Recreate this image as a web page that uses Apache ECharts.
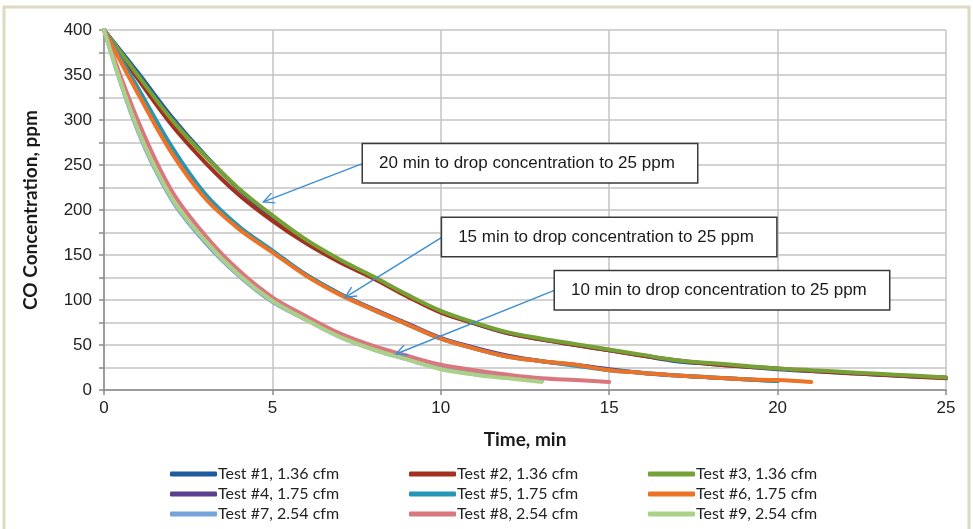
<!DOCTYPE html>
<html><head><meta charset="utf-8">
<script src="https://cdn.jsdelivr.net/npm/echarts@6/dist/echarts.min.js"></script>
<style>html,body{margin:0;padding:0;background:#fff}#c{width:973px;height:529px}</style>
</head><body><div id="c"></div>
<script>
// ---- data ----
const minutes = [0,1,2,3,4,5,6,7,8,9,10,11,12,13,14,15,16,17,18,19,20,21,22,23,24,25];
const test1 = [400,353,304,261,223,192,166,144,125,105,87,74,63,56,50,44,38,32,29,26,23,21,19,17,15,14];
const test2 = [400,346,295,253,217,188,163,142,124,104,86,74,63,56,50,44,38,33,29,26,24,21,19,17,15,13];
const test3 = [400,350,301,260,224,194,167,145,126,106,88,75,64,57,51,45,39,33,30,27,24,22,20,18,16,14];
const test4 = [400,332,267,216,181,154,128,107,90,74,58,47,38,32,28,23,19,16,14,12,10];
const test5 = [400,336,271,218,182,155,128,107,89,73,57,46,37,32,27,22,19,16,14,12,10];
const test6 = [400,330,264,213,179,153,127,106,89,73,57,46,37,32,28,22,19,16,14,12,11,9];
const test7 = [400,288,212,164,127,98,78,59,45,34,24,18,14,10];
const test8 = [400,300,222,172,133,103,82,63,49,38,28,22,17,13,11,9];
const test9 = [400,290,214,166,128,99,78,59,45,34,23,17,13,9];
const seriesNames = ['Test #1, 1.36 cfm','Test #2, 1.36 cfm','Test #3, 1.36 cfm',
  'Test #4, 1.75 cfm','Test #5, 1.75 cfm','Test #6, 1.75 cfm',
  'Test #7, 2.54 cfm','Test #8, 2.54 cfm','Test #9, 2.54 cfm'];
const seriesValues = [test1,test2,test3,test4,test5,test6,test7,test8,test9];
const seriesColors = ['#1f5a9e','#a3301f','#76a136','#5a3f93','#2596b6','#ec7226','#74a4d9','#d9777f','#abd189'];
const annotations = [
  {text:'20 min to drop concentration to 25 ppm', box:[7.69,273], tip:[4.73,209]},
  {text:'15 min to drop concentration to 25 ppm', box:[10.04,191], tip:[7.16,103]},
  {text:'10 min to drop concentration to 25 ppm', box:[13.39,132], tip:[8.67,40]}
];

// ---- chart ----
const chart = echarts.init(document.getElementById('c'), null, {renderer:'canvas'});
const legendCols = [170,409,648];
const legendRows = [466,486,506];
const legends = seriesNames.map((n,i)=>({
  data:[n], left:legendCols[i%3], top:legendRows[Math.floor(i/3)],
  padding:0, itemWidth:47, itemHeight:5, itemGap:0, icon:'roundRect',
  selectedMode:false,
  textStyle:{fontFamily:'Lato', fontSize:16, color:'#222', padding:[0,0,0,-4]}
}));
const series = seriesValues.map((vals,i)=>({
  name:seriesNames[i], type:'line', smooth:0.35, symbol:'none',
  data:vals.map((v,j)=>[minutes[j],v]),
  lineStyle:{color:seriesColors[i], width:4, cap:'round', join:'round'},
  itemStyle:{color:seriesColors[i]},
  emphasis:{disabled:true}, silent:true, animation:false
}));
chart.setOption({
  animation:false,
  backgroundColor:'#fff',
  grid:{left:104, right:27, top:30, bottom:139, containLabel:false},
  xAxis:{type:'value', min:0, max:25, interval:5,
    name:'Time, min', nameLocation:'middle', nameGap:40,
    nameTextStyle:{fontFamily:'Lato', fontWeight:'bold', fontSize:19, color:'#1a1a1a'},
    axisLine:{show:true, lineStyle:{color:'#8a8a8a', width:1.5}},
    axisTick:{show:true, length:5, lineStyle:{color:'#8a8a8a', width:1.5}},
    axisLabel:{fontFamily:'Liberation Sans', fontSize:17, color:'#222', margin:10},
    splitLine:{show:true, lineStyle:{color:'#c3c3c3', width:1.5}}
  },
  yAxis:{type:'value', min:0, max:400, interval:25,
    name:'CO Concentration, ppm', nameLocation:'middle', nameGap:64, nameRotate:90,
    nameTextStyle:{fontFamily:'Lato', fontWeight:'bold', fontSize:19, color:'#1a1a1a'},
    axisLine:{show:true, lineStyle:{color:'#8a8a8a', width:1.5}},
    axisTick:{show:true, length:5, lineStyle:{color:'#8a8a8a', width:1.5}},
    axisLabel:{fontFamily:'Liberation Sans', fontSize:17, color:'#222', margin:12,
      formatter:v=> (v%50===0 ? String(v) : '')},
    splitLine:{show:true, lineStyle:{color:'#c3c3c3', width:1.5}}
  },
  legend:legends,
  series:series
});

function drawAnnotations(){
  const g = [];
  g.push({type:'rect', shape:{x:4,y:7,width:965,height:530}, style:{fill:'none', stroke:'#dedac2', lineWidth:3}, silent:true, z:100});
  annotations.forEach(a=>{
    const bp = chart.convertToPixel({gridIndex:0}, a.box);
    const tp = chart.convertToPixel({gridIndex:0}, a.tip);
    const boxH = 38;
    const sx = bp[0], sy = bp[1] + boxH/2;
    g.push({type:'line', shape:{x1:sx, y1:sy, x2:tp[0], y2:tp[1]},
      style:{stroke:'#3e8fd2', lineWidth:1.4}, z:100, silent:true});
    const ang = Math.atan2(sy-tp[1], sx-tp[0]);
    const L = 12, spread = 0.45;
    g.push({type:'polyline', shape:{points:[
      [tp[0]+L*Math.cos(ang+spread), tp[1]+L*Math.sin(ang+spread)],
      [tp[0], tp[1]],
      [tp[0]+L*Math.cos(ang-spread), tp[1]+L*Math.sin(ang-spread)]]},
      style:{stroke:'#3e8fd2', lineWidth:1.4, fill:'none'}, z:100, silent:true});
    g.push({type:'text', x:bp[0], y:bp[1], z:101, silent:true,
      style:{text:a.text, fontFamily:'Liberation Sans', fontSize:17, fill:'#1a1a1a',
        backgroundColor:'#fff', borderColor:'#3a3a3a', borderWidth:1.5,
        padding:[10,16,10,16], width:302, height:18, align:'left', verticalAlign:'top', lineHeight:18}});
  });
  chart.setOption({graphic:g});
}
drawAnnotations();
</script></body></html>
